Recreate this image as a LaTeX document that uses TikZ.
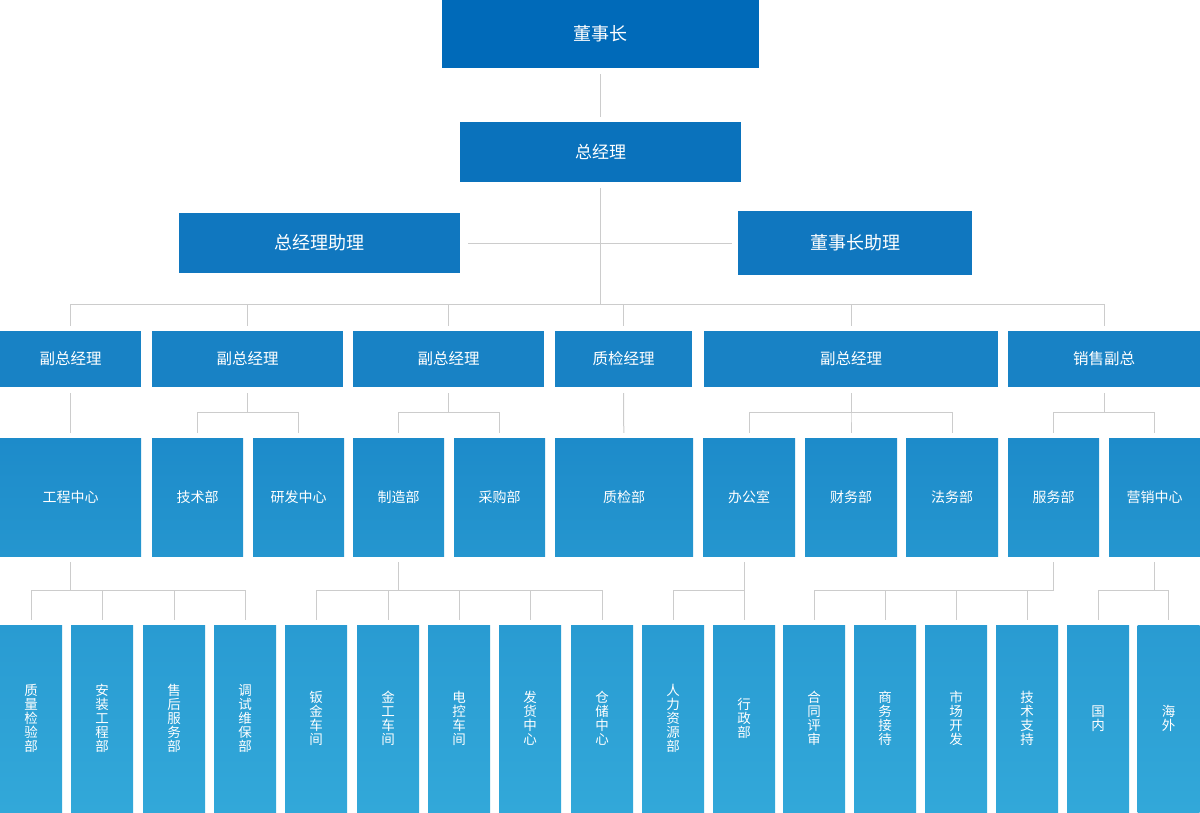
\documentclass[tikz,border=0pt]{standalone}
\usepackage{fontspec}
\setmainfont{Noto Sans CJK SC}
\usetikzlibrary{calc}

\definecolor{chairblue}{RGB}{0,106,185}
\definecolor{gmblue}{RGB}{10,114,188}
\definecolor{asstblue}{RGB}{16,119,191}
\definecolor{vpblue}{RGB}{24,130,197}
\definecolor{depttop}{RGB}{29,139,202}
\definecolor{deptbot}{RGB}{37,150,207}
\definecolor{unittop}{RGB}{41,155,210}
\definecolor{unitbot}{RGB}{50,168,217}
\definecolor{linegray}{RGB}{204,204,204}

\tikzset{
  box/.style={inner sep=0pt, text=white, align=center},
  chairbox/.style={box, fill=chairblue, font=\fontsize{18}{20}\selectfont},
  gmbox/.style={box, fill=gmblue, minimum width=281pt, minimum height=60pt, font=\fontsize{17}{20}\selectfont},
  asstbox/.style={box, fill=asstblue, font=\fontsize{18}{20}\selectfont},
  vpbox/.style={box, fill=vpblue, minimum height=56pt, font=\fontsize{15.5}{18}\selectfont},
  deptbox/.style={box, top color=depttop, bottom color=deptbot, minimum height=118pt, font=\fontsize{14}{16}\selectfont},
  unitbox/.style={box, top color=unittop, bottom color=unitbot, minimum width=62pt, minimum height=187pt, font=\fontsize{13.5}{14}\selectfont},
  link/.style={draw=linegray, line width=1pt, shorten <=6pt, shorten >=5pt},
}

\begin{document}
\begin{tikzpicture}[x=1pt,y=-1pt]
  \useasboundingbox (0,0) rectangle (1200,812);

  % top
  \node[chairbox, minimum width=317pt, minimum height=68pt] (chair) at (600.5,34) {董事长};
  \node[gmbox] (gm) at (600.5,152) {总经理};
  \node[asstbox, minimum width=281pt, minimum height=60pt] (gmasst) at (319.5,243) {总经理助理};
  \node[asstbox, minimum width=234pt, minimum height=64pt] (chasst) at (855,243) {董事长助理};

  % vice level
  \node[vpbox, minimum width=141pt] (vpa) at (70.5,359) {副总经理};
  \node[vpbox, minimum width=191pt] (vpb) at (247.5,359) {副总经理};
  \node[vpbox, minimum width=191pt] (vpc) at (448.5,359) {副总经理};
  \node[vpbox, minimum width=137pt] (qm) at (623.5,359) {质检经理};
  \node[vpbox, minimum width=294pt] (vpe) at (851,359) {副总经理};
  \node[vpbox, minimum width=192pt] (svp) at (1104,359) {销售副总};

  % departments
  \node[deptbox, minimum width=141pt] (eng) at (70.5,497) {工程中心};
  \node[deptbox, minimum width=91pt] (tech) at (197.5,497) {技术部};
  \node[deptbox, minimum width=91pt] (rnd) at (298.5,497) {研发中心};
  \node[deptbox, minimum width=91pt] (mfg) at (398.5,497) {制造部};
  \node[deptbox, minimum width=91pt] (pur) at (499.5,497) {采购部};
  \node[deptbox, minimum width=138pt] (qc) at (624,497) {质检部};
  \node[deptbox, minimum width=92pt] (off) at (749,497) {办公室};
  \node[deptbox, minimum width=92pt] (fin) at (851,497) {财务部};
  \node[deptbox, minimum width=92pt] (law) at (952,497) {法务部};
  \node[deptbox, minimum width=91pt] (svc) at (1053.5,497) {服务部};
  \node[deptbox, minimum width=91pt] (mkt) at (1154.5,497) {营销中心};

  % units
  \foreach \x/\t/\n in {31/{质\\量\\检\\验\\部}/d1, 102/{安\\装\\工\\程\\部}/d2,
      174/{售\\后\\服\\务\\部}/d3, 245/{调\\试\\维\\保\\部}/d4,
      316/{钣\\金\\车\\间}/d5, 388/{金\\工\\车\\间}/d6, 459/{电\\控\\车\\间}/d7,
      530/{发\\货\\中\\心}/d8, 602/{仓\\储\\中\\心}/d9, 673/{人\\力\\资\\源\\部}/d10,
      744/{行\\政\\部}/d11, 814/{合\\同\\评\\审}/d12, 885/{商\\务\\接\\待}/d13,
      956/{市\\场\\开\\发}/d14, 1027/{技\\术\\支\\持}/d15, 1098/{国\\内}/d16,
      1168.5/{海\\外}/d17}
    \node[unitbox] (\n) at (\x,718.5) {\t};

  % connectors
  \draw[link] (chair) -- (gm);
  \draw[link, shorten <=8pt, shorten >=6pt] (gmasst) -- (chasst);
  \foreach \n in {vpa,vpb,vpc,qm,vpe,svp}
    \draw[link] (gm.south) -- ++(0,122) -| (\n.north);
  \draw[link] (vpa) -- (eng);
  \draw[link] (qm) -- (qc);
  \foreach \p/\c in {vpb/tech, vpb/rnd, vpc/mfg, vpc/pur, vpe/off, vpe/fin, vpe/law, svp/svc, svp/mkt}
    \draw[link] (\p.south) -- ++(0,25) -| (\c.north);
  \foreach \p/\c in {eng/d1, eng/d2, eng/d3, eng/d4, mfg/d5, mfg/d6, mfg/d7, mfg/d8, mfg/d9,
      svc/d12, svc/d13, svc/d14, svc/d15, mkt/d16, mkt/d17}
    \draw[link] (\p.south) -- ++(0,34) -| (\c.north);
  \draw[link] (off.south -| d11.north) -- (d11.north);
  \draw[link] (off.south -| d11.north) -- ++(0,34) -| (d10.north);
\end{tikzpicture}
\end{document}
